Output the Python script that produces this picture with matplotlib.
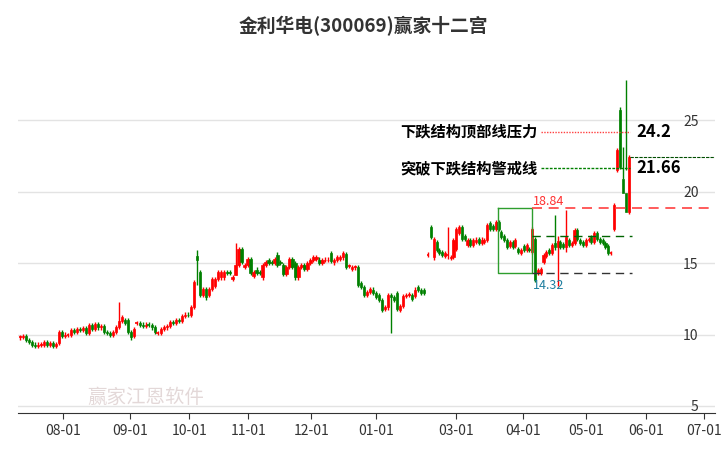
import matplotlib
matplotlib.use("Agg")
import matplotlib.pyplot as plt
import numpy as np

plt.rcParams['font.family'] = ['Noto Sans CJK SC', 'DejaVu Sans']

# candle (open, close) pairs; None separates trading gaps
candles = [
 (9.8,9.85),(9.85,9.9),(9.9,9.6),(9.6,9.5),(9.5,9.3),(9.3,9.2),(9.2,9.3),(9.3,9.3),(9.3,9.5),(9.5,9.3),
 (9.3,9.4),(9.4,9.2),(9.2,9.35),(9.4,10.2),(10.2,9.9),(9.9,10.0),(9.95,9.95),(9.95,10.3),(10.3,10.2),
 (10.2,10.4),(10.4,10.3),(10.3,10.45),(10.45,10.1),(10.1,10.65),(10.65,10.4),(10.4,10.75),(10.75,10.5),
 (10.5,10.6),(10.6,10.2),(10.2,10.1),(10.1,10.0),(10.0,10.2),(10.2,10.5),(10.5,10.95),(10.95,11.2),(11.0,10.8),
 (11.0,10.2),(10.2,9.8),(9.9,10.4),(10.8,10.8),(10.8,10.7),(10.7,10.6),(10.6,10.7),(10.7,10.65),(10.65,10.5),
 (10.5,10.2),(10.1,10.1),(10.1,10.4),(10.4,10.5),(10.5,10.6),(10.6,10.9),(10.9,10.8),(10.8,11.0),(11.0,10.95),
 (10.95,11.3),(11.3,11.4),(11.4,11.35),(11.35,11.94),(11.94,13.7),(15.5,15.2),(14.4,12.8),(12.8,13.2),
 (13.2,12.6),(12.8,13.2),(13.2,13.9),(13.4,13.9),(13.9,14.4),(14.0,14.4),(14.0,14.4),(14.4,14.3),(14.4,14.3),
 (13.9,14.0),(14.2,14.85),(14.85,16.0),(16.0,15.1),(14.75,14.85),(14.85,15.3),(15.3,14.3),(14.1,14.4),
 (14.55,14.3),(14.4,14.3),(14.0,14.85),(14.85,15.1),(15.2,15.0),(15.1,15.0),(15.0,15.3),(15.6,14.85),
 (15.1,15.0),(14.85,14.27),(14.27,14.74),(14.74,15.3),(15.3,14.74),(15.0,14.0),(14.0,14.74),(14.74,14.85),
 (14.85,14.6),(14.6,15.0),(15.0,15.2),(15.2,15.4),(15.3,15.4),(15.25,15.0),(15.0,15.2),(15.2,15.25),
 (15.2,15.25),(15.7,15.15),(15.05,15.2),(15.2,15.45),(15.3,15.4),(15.4,15.7),(15.65,14.74),(14.8,14.8),
 (14.6,14.74),(14.7,14.74),(14.74,13.45),(13.6,13.34),(13.34,12.76),(12.76,13.0),(13.0,13.2),(13.15,12.9),
 (12.9,12.64),(12.75,12.4),(12.4,11.75),(11.8,11.9),(11.9,12.76),(12.76,12.64),(12.64,12.45),(12.9,11.8),
 (11.75,12.0),(12.0,12.7),(12.7,12.76),(12.76,12.8),(12.75,12.5),(12.7,13.15),(13.3,13.1),(13.1,12.9),(13.1,12.9),
 None,
 (15.6,15.6),(17.5,16.85),(15.4,16.7),(16.5,15.9),(15.9,15.7),(15.8,15.6),(15.5,15.7),(15.6,15.6),(15.35,15.45),
 (15.45,16.6),(16.0,17.4),(17.1,17.5),(17.5,16.7),(16.9,16.7),(16.3,16.6),(16.6,16.3),(16.3,16.6),(16.5,16.65),
 (16.7,16.4),(16.4,16.65),(16.5,16.6),(16.6,17.66),(17.8,17.4),(17.6,17.4),(17.4,17.9),(17.9,17.4),(17.2,16.85),
 (16.9,16.6),(16.6,16.15),(16.2,16.5),(16.5,16.15),(16.2,16.6),(16.0,15.8),(15.7,15.9),(16.2,15.9),(15.9,16.25),
 (15.95,15.9),(15.8,17.4),(16.7,13.8),(14.3,14.5),(14.3,14.6),(15.1,15.55),(15.5,15.8),(15.9,15.7),(15.7,16.25),
 (16.4,16.15),(16.15,16.55),(16.5,16.15),(16.35,16.15),(16.15,16.85),(16.6,16.25),(16.25,16.4),(16.4,17.3),
 (17.3,16.7),(16.6,16.4),(16.45,16.25),(16.25,16.6),(16.6,16.7),(16.8,16.5),(16.5,17.08),(17.08,16.7),
 (16.7,16.5),(16.6,16.4),(16.4,16.15),(16.2,15.7),(15.7,15.7),
 None,
 (17.4,19.06),(21.55,22.9),(25.75,21.75),(20.9,19.9),(19.9,18.6),(18.6,22.44),
]
# notable wick extremes (candle number, counting candles only -> (high, low))
wicks = {33: (12.3, 10.4), 59: (15.9, 13.5), 72: (16.4, 14.2), 124: (12.9, 10.1),
         143: (17.5, 15.3), 181: (18.4, 15.9), 182: (16.9, 13.4), 185: (18.7, 15.8),
         205: (23.1, 20.9), 206: (27.8, 21.5), 208: (18.6, 18.4)}

tick_labels = ['08-01','09-01','10-01','11-01','12-01','01-01','03-01','04-01','05-01','06-01','07-01']
tick_px = [63,130,189,248,311,376,456,523,586,646,704]
seg_px = [(20, 424), (428, 611), (614, 629)]   # horizontal span of each run of candles

segs, cur = [], []
for cd in candles:
    if cd is None:
        segs.append(cur); cur = []
    else:
        cur.append(cd)
segs.append(cur)

fig = plt.figure(figsize=(7.26,4.5), dpi=100)
ax = fig.add_axes([0.025, 0.082, 0.96, 0.784])

up, dn = '#ff0000', '#008000'
k = 0
for seg, (a, b) in zip(segs, seg_px):
    xs = np.linspace(a, b, len(seg))
    step = xs[1] - xs[0] if len(xs) > 1 else 3
    w = min(step * 0.75, 2.6)
    for x, (o, c) in zip(xs, seg):
        col = up if c >= o else dn
        hi, lo = wicks.get(k, (max(o, c) + 0.15, min(o, c) - 0.15))
        ax.vlines(x, lo, hi, color=col, lw=1)
        h = abs(c - o)
        if h < 0.05:
            ax.hlines(min(o, c), x-w/2-0.3, x+w/2+0.3, color=col, lw=1.2)
        else:
            ax.bar(x, h, bottom=min(o, c), width=w, color=col, edgecolor=col, lw=0.5)
        k += 1

ax.set_xlim(18, 715)
ax.set_ylim(4.5, 29.2)
for v in [5,10,15,20,25]:
    ax.axhline(v, color='#e3e3e3', lw=1, zorder=0)
ax.yaxis.tick_right()
ax.set_yticks([5,10,15,20,25])
ax.set_yticklabels(['5','10','15','20','25'], fontsize=10, color='#333333')
ax.tick_params(axis='y', length=0, pad=-12)
for lab in ax.get_yticklabels():
    lab.set_horizontalalignment('right')
ax.set_xticks(tick_px)
ax.set_xticklabels(tick_labels, fontsize=10, color='#333333')
ax.tick_params(axis='x', length=4, color='#333333')
for s in ['top','right','left']:
    ax.spines[s].set_visible(False)
ax.spines['bottom'].set_color('#333333')

box_l, box_r = 498, 532
ax.plot([box_l, box_r, box_r, box_l, box_l], [18.84, 18.84, 14.32, 14.32, 18.84], color='#2e9e2e', lw=1)
ax.plot([box_r, 715], [18.84, 18.84], color='#ff4040', lw=1.2, ls=(0,(6,4)))
ax.plot([box_r, 632], [16.9, 16.9], color='#006400', lw=1, ls=(0,(6,4)))
ax.plot([box_r, 632], [14.32, 14.32], color='#333333', lw=1, ls=(0,(6,4)))
ax.text(box_r+1, 19.1, '18.84', color='#ff3030', fontsize=9)
ax.text(box_r+1, 13.9, '14.32', color='#1f7fa0', fontsize=9, va='top')
ax.plot([541, 630], [24.2, 24.2], color='#ff4040', lw=1, ls=(0,(1,1)))
ax.plot([541, 630], [21.66, 21.66], color='#008000', lw=1, ls=(0,(2,1)))
ax.plot([630, 715], [22.45, 22.45], color='#004d00', lw=0.8, ls=(0,(3,1)))
ax.text(537, 24.2, '下跌结构顶部线压力', ha='right', va='center', fontsize=11, fontweight='bold')
ax.text(537, 21.66, '突破下跌结构警戒线', ha='right', va='center', fontsize=11, fontweight='bold')
ax.text(636, 24.2, '24.2', ha='left', va='center', fontsize=12, fontweight='bold')
ax.text(636, 21.66, '21.66', ha='left', va='center', fontsize=12, fontweight='bold')

fig.text(0.5, 0.942, '金利华电(300069)赢家十二宫', ha='center', va='center', fontsize=13.5, fontweight='bold', color='#333333')
fig.text(0.12, 0.105, '赢家江恩软件', fontsize=14, color='#d8c8c8', alpha=0.7)
fig.savefig('out.png', dpi=100)
